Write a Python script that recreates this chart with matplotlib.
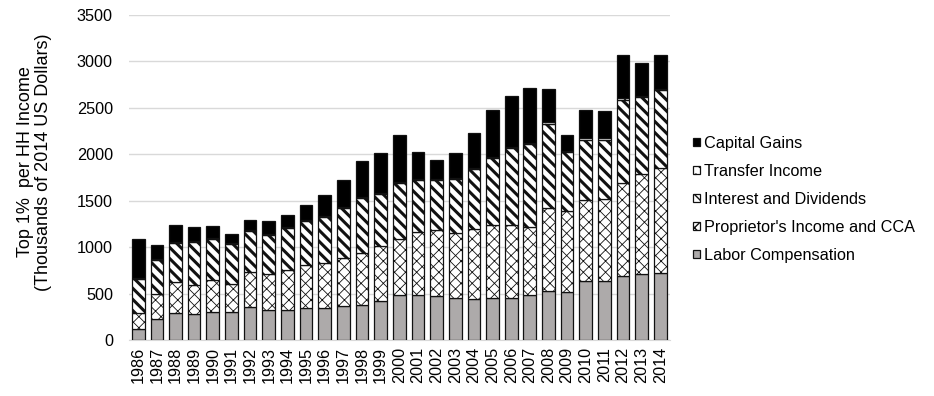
import numpy as np
import matplotlib
matplotlib.use("Agg")
import matplotlib.pyplot as plt

plt.rcParams['font.family'] = ['Liberation Sans', 'DejaVu Sans']

# data (thousands of 2014 US dollars)
years = [str(y) for y in range(1986, 2015)]
labor = [115, 233, 294, 280, 308, 308, 355, 322, 322, 344, 341, 366, 383, 419, 484,
         484, 473, 459, 448, 459, 459, 487, 534, 523, 640, 638, 688, 717, 724]
proprietor = [179, 261, 329, 319, 344, 301, 379, 395, 430, 469, 494, 521, 560, 599, 609,
              684, 710, 694, 745, 781, 781, 735, 892, 867, 872, 885, 1003, 1075, 1133]
interest = [369, 373, 423, 458, 441, 423, 438, 419, 459, 470, 491, 532, 584, 552, 602,
            552, 537, 581, 645, 720, 824, 885, 903, 631, 643, 634, 897, 824, 831]
transfer = [10, 9, 10, 10, 10, 11, 10, 10, 11, 11, 11, 11, 12, 12, 12,
            13, 13, 13, 13, 14, 14, 14, 15, 16, 17, 17, 17, 17, 18]
capital = [413, 149, 187, 148, 126, 97, 108, 133, 129, 165, 222, 294, 389, 436, 500,
           295, 210, 271, 382, 499, 552, 595, 360, 170, 301, 288, 470, 348, 369]

# stacking order bottom -> top
series = [
    ("Labor Compensation", labor, '#adaaaa', None, 0.8),
    ("Proprietor's Income and CCA", proprietor, 'white', 'xxx', 0.6),
    ("Interest and Dividends", interest, 'white', '\\\\\\', 2.2),
    ("Transfer Income", transfer, 'white', '..', 0.6),
    ("Capital Gains", capital, 'black', None, 0.8),
]

fig = plt.figure(figsize=(9.34, 3.96), dpi=100)
ax = fig.add_axes([0.138, 0.141, 0.579, 0.821])

x = np.arange(len(years))
bottom = np.zeros(len(years))
handles = {}
for name, vals, color, hatch, hlw in series:
    with plt.rc_context({'hatch.linewidth': hlw}):
        bars = ax.bar(x, vals, 0.68, bottom=bottom, color=color, edgecolor='#111111',
                      linewidth=0.9, hatch=hatch, label=name, zorder=3)
        for b in bars:
            if hasattr(b, 'set_hatch_linewidth'):
                b.set_hatch_linewidth(hlw)
    handles[name] = bars
    bottom += np.array(vals)

ax.set_xlim(-0.5, len(years) - 0.5)
ax.set_ylim(0, 3500)
ax.set_yticks(range(0, 3501, 500))
ax.set_xticks(x)
ax.set_xticklabels(years, rotation=90, fontsize=11.7)
ax.tick_params(axis='y', labelsize=11.7, length=0, pad=11.5)
ax.tick_params(axis='x', length=0, pad=5)
ax.grid(axis='y', color='#d9d9d9', linewidth=1, zorder=0)
for s in ['top', 'right', 'left']:
    ax.spines[s].set_visible(False)
ax.spines['bottom'].set_color('#d9d9d9')

ax.set_ylabel("Top 1%  per HH Income\n(Thousands of 2014 US Dollars)", fontsize=13,
              linespacing=1.05)
ax.yaxis.set_label_coords(-0.142, 0.548)

legend_order = ["Capital Gains", "Transfer Income", "Interest and Dividends",
                "Proprietor's Income and CCA", "Labor Compensation"]
fig.legend([handles[n] for n in legend_order], legend_order, loc='center left',
           bbox_to_anchor=(0.726, 0.497), frameon=False, fontsize=11.7,
           handlelength=0.45, handleheight=0.45, handletextpad=0.25, labelspacing=0.8)

fig.savefig("out.png", dpi=100)
